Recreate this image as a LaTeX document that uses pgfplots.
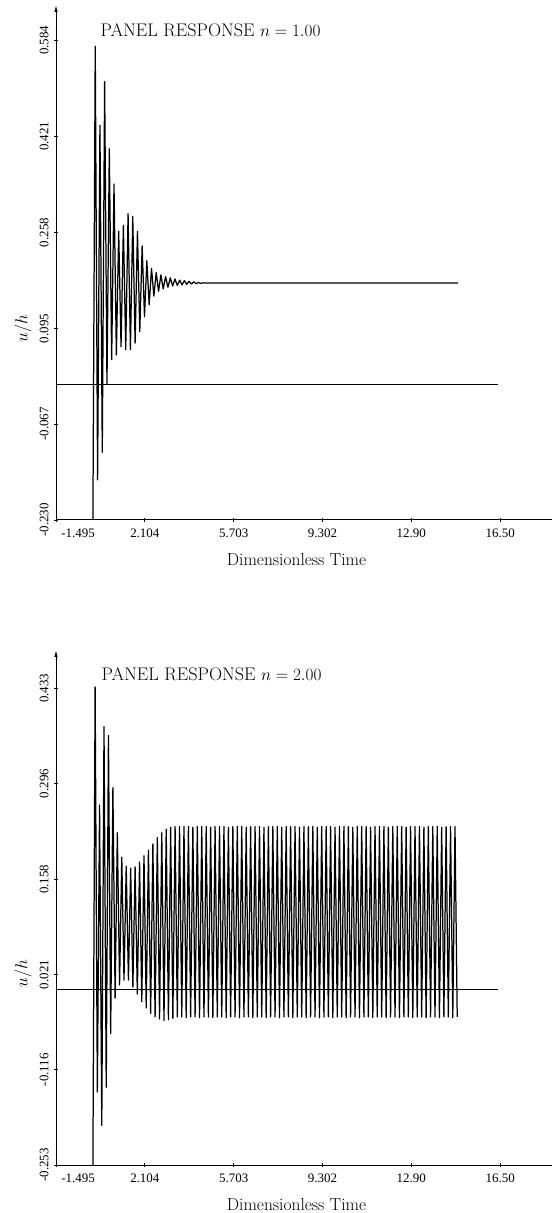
\documentclass[border=0pt]{standalone}
\usepackage{fontspec}
\newfontfamily\tickfont{Liberation Serif}
\usepackage{pgfplots}
\pgfplotsset{compat=1.18}
\usetikzlibrary{arrows.meta}

\pgfplotsset{
  panel/.style={
    scale only axis, width=496bp, height=515bp,
    xmin=-1.495, xmax=18.6,
    axis x line=bottom, axis y line=left,
    x axis line style={-, line width=1pt},
    y axis line style={-{Latex[length=7bp,width=3.5bp]}, line width=1pt},
    tick align=center, major tick length=4bp,
    tick style={line width=0.8pt, black},
    xtick={-1.495,2.104,5.703,9.302,12.90,16.50},
    xticklabels={\hspace*{44bp}-1.495,2.104,5.703,9.302,12.90,16.50},
    ticklabel style={font=\tickfont\fontsize{13}{13}\selectfont},
    xticklabel style={yshift=-3bp},
    yticklabel style={rotate=90, anchor=south, yshift=2bp},
    xlabel={Dimensionless Time},
    ylabel={$u/h$},
    xlabel style={font=\fontsize{17.5}{17.5}\selectfont,
      at={(axis description cs:0.485,0)}, anchor=north, yshift=-30bp},
    ylabel style={font=\fontsize{17}{17}\selectfont,
      at={(axis description cs:-0.0665,0.372)}, anchor=center},
    clip=false,
  },
  sig/.style={black, line width=1.25pt, line join=round},
}

\begin{document}
\begin{tikzpicture}
\useasboundingbox (0,0) rectangle (554bp,1213bp);

% n = 1.00
\begin{axis}[panel, at={(56bp,693bp)}, anchor=south west,
    ymin=-0.230, ymax=0.644,
    ytick={-0.230,-0.067,0.095,0.258,0.421,0.584},
    yticklabels={-0.230,-0.067,0.095,0.258,0.421,0.584}]
\addplot[sig] coordinates {
 (0,-0.230) (0.095,0.574) (0.19,-0.162) (0.285,0.44) (0.38,-0.115) (0.475,0.514)
 (0.57,0.00) (0.665,0.40) (0.76,0.042) (0.855,0.34) (0.95,0.05) (1.045,0.26)
 (1.14,0.064) (1.235,0.27) (1.33,0.059) (1.425,0.29) (1.52,0.059) (1.615,0.285)
 (1.71,0.07) (1.805,0.26) (1.90,0.09) (1.995,0.235) (2.09,0.115) (2.185,0.21)
 (2.28,0.135) (2.375,0.197) (2.47,0.150) (2.565,0.19) (2.66,0.158) (2.755,0.186)
 (2.85,0.162) (2.945,0.183) (3.04,0.165) (3.135,0.181) (3.23,0.167) (3.325,0.179)
 (3.42,0.168) (3.515,0.177) (3.61,0.169) (3.705,0.176) (3.80,0.170) (3.895,0.175)
 (3.99,0.1705) (4.085,0.174) (4.18,0.171) (4.275,0.173) (4.37,0.1715) (4.465,0.1725)
 (4.56,0.172) (14.8,0.172)
};
\addplot[black, line width=1pt] coordinates {(-1.495,0) (16.4,0)};
\node[anchor=base west, font=\fontsize{18.3}{18.3}\selectfont]
  at (rel axis cs:0.083,0.938) {PANEL RESPONSE $n = 1.00$};
\end{axis}

% n = 2.00
\begin{axis}[panel, at={(56bp,48bp)}, anchor=south west,
    ymin=-0.253, ymax=0.488,
    ytick={-0.253,-0.116,0.021,0.158,0.296,0.433},
    yticklabels={-0.253,-0.116,0.021,0.158,0.296,0.433}]
\addplot[sig] coordinates {
 (0,-0.253) (0.09,0.435) (0.18,-0.148) (0.27,0.265) (0.36,-0.196) (0.45,0.378)
 (0.54,-0.141) (0.63,0.365) (0.72,-0.064) (0.81,0.29) (0.90,-0.013) (0.99,0.225)
 (1.08,0.006) (1.17,0.19) (1.26,0.013) (1.35,0.177) (1.44,0.013) (1.53,0.174)
 (1.62,0.003) (1.71,0.176) (1.80,-0.007) (1.89,0.183) (1.98,-0.018) (2.07,0.192)
 (2.16,-0.027) (2.25,0.200) (2.34,-0.035) (2.43,0.209) (2.52,-0.040) (2.61,0.218)
 (2.70,-0.043) (2.79,0.225) (2.88,-0.045) (2.97,0.230) (3.06,-0.044) (3.15,0.233)
 (3.24,-0.042) (3.33,0.234) (3.42,-0.040) (3.51,0.234) (3.60,-0.040) (3.69,0.234)
 (3.78,-0.041) (3.87,0.234) (3.96,-0.040) (4.05,0.233) (4.14,-0.040) (4.23,0.234)
 (4.32,-0.041) (4.41,0.234) (4.50,-0.040) (4.59,0.234) (4.68,-0.040) (4.77,0.233)
 (4.86,-0.041) (4.95,0.234) (5.04,-0.040) (5.13,0.234) (5.22,-0.040) (5.31,0.234)
 (5.40,-0.041) (5.49,0.233) (5.58,-0.040) (5.67,0.234) (5.76,-0.040) (5.85,0.234)
 (5.94,-0.041) (6.03,0.234) (6.12,-0.040) (6.21,0.233) (6.30,-0.040) (6.39,0.234)
 (6.48,-0.041) (6.57,0.234) (6.66,-0.040) (6.75,0.234) (6.84,-0.040) (6.93,0.233)
 (7.02,-0.041) (7.11,0.234) (7.20,-0.040) (7.29,0.234) (7.38,-0.040) (7.47,0.234)
 (7.56,-0.041) (7.65,0.233) (7.74,-0.040) (7.83,0.234) (7.92,-0.040) (8.01,0.234)
 (8.10,-0.041) (8.19,0.234) (8.28,-0.040) (8.37,0.233) (8.46,-0.040) (8.55,0.234)
 (8.64,-0.041) (8.73,0.234) (8.82,-0.040) (8.91,0.234) (9.00,-0.040) (9.09,0.233)
 (9.18,-0.041) (9.27,0.234) (9.36,-0.040) (9.45,0.234) (9.54,-0.040) (9.63,0.234)
 (9.72,-0.041) (9.81,0.233) (9.90,-0.040) (9.99,0.234) (10.08,-0.040) (10.17,0.234)
 (10.26,-0.041) (10.35,0.234) (10.44,-0.040) (10.53,0.233) (10.62,-0.040) (10.71,0.234)
 (10.80,-0.041) (10.89,0.234) (10.98,-0.040) (11.07,0.234) (11.16,-0.040) (11.25,0.233)
 (11.34,-0.041) (11.43,0.234) (11.52,-0.040) (11.61,0.234) (11.70,-0.040) (11.79,0.234)
 (11.88,-0.041) (11.97,0.233) (12.06,-0.040) (12.15,0.234) (12.24,-0.040) (12.33,0.234)
 (12.42,-0.041) (12.51,0.234) (12.60,-0.040) (12.69,0.233) (12.78,-0.040) (12.87,0.234)
 (12.96,-0.041) (13.05,0.234) (13.14,-0.040) (13.23,0.234) (13.32,-0.040) (13.41,0.233)
 (13.50,-0.041) (13.59,0.234) (13.68,-0.040) (13.77,0.234) (13.86,-0.040) (13.95,0.234)
 (14.04,-0.041) (14.13,0.233) (14.22,-0.040) (14.31,0.234) (14.40,-0.040) (14.49,0.234)
 (14.58,-0.041) (14.67,0.234) (14.76,-0.040)
};
\addplot[black, line width=1pt] coordinates {(-1.495,0) (16.4,0)};
\node[anchor=base west, font=\fontsize{18.3}{18.3}\selectfont]
  at (rel axis cs:0.085,0.940) {PANEL RESPONSE $n = 2.00$};
\end{axis}
\end{tikzpicture}
\end{document}
